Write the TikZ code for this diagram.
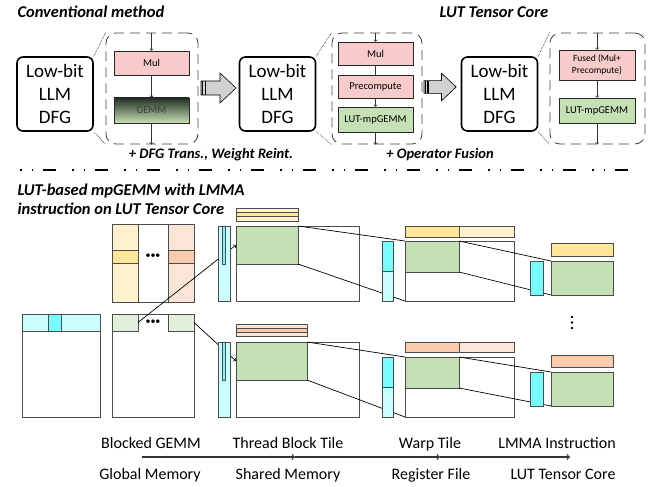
\documentclass[tikz,border=0pt]{standalone}
\usepackage{fontspec}
\setmainfont{Carlito}
\usepackage{tikz}
\usetikzlibrary{positioning}
\definecolor{cyanL}{HTML}{CCFFFF}
\definecolor{cyanD}{HTML}{77FFFF}
\definecolor{yelL}{HTML}{FFF2CC}
\definecolor{yelD}{HTML}{FFE699}
\definecolor{orgL}{HTML}{FBE5D6}
\definecolor{orgD}{HTML}{F8CBAD}
\definecolor{grnM}{HTML}{C5E0B4}
\definecolor{grnL}{HTML}{E2EFDA}
\definecolor{pinkM}{HTML}{F8CBCB}
\definecolor{gemmTop}{HTML}{253025}

\begin{document}
\begin{tikzpicture}[x=1pt,y=-1pt,
	dfg/.style={draw,line width=1.6pt,rounded corners=6pt,minimum width=76pt,minimum height=74pt,inner sep=0pt,align=center,font=\fontsize{19}{23}\selectfont},
	zoombox/.style={draw=black!75,line width=0.8pt,dash pattern=on 10pt off 6pt,rounded corners=10pt,minimum height=111pt,inner sep=0pt},
	op/.style={draw=black!85,line width=0.7pt,minimum width=75pt,inner sep=0pt,align=center,font=\fontsize{10.5}{12}\selectfont},
	title/.style={font=\fontsize{16.5}{20}\selectfont\bfseries\itshape},
	note/.style={font=\fontsize{14.5}{17}\selectfont\bfseries\itshape},
	lbl/.style={anchor=base,font=\fontsize{16}{19}\selectfont},
	blk/.style={draw=black!70,line width=0.8pt,anchor=north west,inner sep=0pt,outer sep=0pt},
	sz/.style 2 args={minimum width=#1pt,minimum height=#2pt},
	flow/.style={->,line width=0.6pt,black!80},
	link/.style={line width=0.7pt},
	hop/.style={->,draw=black!80,line width=1.2pt},
	dots/.style={font=\fontsize{10}{12}\selectfont,inner sep=0pt},
	fatarrow/.pic={
		\draw[fill=black!18,line width=0.6pt] (0,-7) -- (19,-7) -- (19,-15) -- (35,0) -- (19,15) -- (19,7) -- (0,7) -- cycle;
		\draw[line width=1.5pt] (1.5,-7) -- (1.5,7) (4.5,-7) -- (4.5,7);
	}]
	\useasboundingbox (0,0) rectangle (657,487);

	% top: DFG transformation
	\node[title,anchor=base west] (ttlA) at (14,18) {Conventional method};
	\node[title,anchor=base] (ttlB) at (494,18) {LUT Tensor Core};

	\node[dfg] (dfgA) at (55,94) {Low-bit\\LLM\\DFG};
	\node[dfg] (dfgB) at (277.5,94) {Low-bit\\LLM\\DFG};
	\node[dfg] (dfgC) at (499.5,94) {Low-bit\\LLM\\DFG};

	\node[zoombox,minimum width=92pt] (zmA) at (152,88.5) {};
	\node[zoombox,minimum width=90pt] (zmB) at (377,88.5) {};
	\node[zoombox,minimum width=95pt] (zmC) at (597.5,88.5) {};

	\draw[densely dotted,line width=0.6pt] (dfgA.north east) -- (zmA.north west) (dfgA.south east) -- (zmA.south west);
	\draw[densely dotted,line width=0.6pt] (dfgB.north east) -- (zmB.north west) (dfgB.south east) -- (zmB.south west);
	\draw[densely dotted,line width=0.6pt] (dfgC.north east) -- (zmC.north west) (dfgC.south east) -- (zmC.south west);

	\node[op,fill=pinkM,minimum height=24pt] (mulA) at (151.5,63) {Mul};
	\node[op,top color=gemmTop,bottom color=grnM,minimum height=25pt,text=black!75] (gemmA) at (151.5,110.5) {GEMM};
	\draw[flow] (mulA |- zmA.north) -- (mulA.north);
	\draw[flow] (mulA.south) -- (gemmA.north);
	\draw[flow] (gemmA.south) -- (gemmA |- zmA.south);

	\node[op,fill=pinkM,minimum height=23pt] (mulB) at (375.5,53.5) {Mul};
	\node[op,fill=pinkM,minimum height=23pt] (preB) at (375.5,86.5) {Precompute};
	\node[op,fill=grnM,minimum height=25pt] (lutB) at (375.5,119.5) {LUT-mpGEMM};
	\draw[flow] (mulB |- zmB.north) -- (mulB.north);
	\draw[line width=0.6pt,black!80] (mulB.south) -- (preB.north);
	\draw[flow] (preB.south) -- (lutB.north);
	\draw[flow] (lutB.south) -- (lutB |- zmB.south);

	\node[op,fill=pinkM,minimum width=76pt,minimum height=30pt,font=\fontsize{9.5}{11.5}\selectfont] (fusC) at (597,65) {Fused (Mul+\\Precompute)};
	\node[op,fill=grnM,minimum width=76pt,minimum height=25pt] (lutC) at (597,110.5) {LUT-mpGEMM};
	\draw[flow] (fusC |- zmC.north) -- (fusC.north);
	\draw[flow] (fusC.south) -- (lutC.north);
	\draw[flow] (lutC.south) -- (lutC |- zmC.south);

	\pic (arrA) at (201,88) {fatarrow};
	\pic[scale=0.92] (arrB) at (424,87) {fatarrow};

	\node[note,anchor=base] (noteA) at (211,159) {+ DFG Trans., Weight Reint.};
	\node[note,anchor=base] (noteB) at (440,159) {+ Operator Fusion};

	\coordinate (sepL) at (20,170);
	\coordinate (sepR) at (637,170);
	\draw[line width=2.5pt,dash pattern=on 1.5pt off 10pt on 1.5pt off 10pt on 13pt off 16pt] (sepL) -- (sepR);

	% bottom: tiling
	\node[title,anchor=base west] (ttlC) at (14,195) {LUT-based mpGEMM with LMMA};
	\node[title,anchor=base west] (ttlD) at (14,214) {instruction on LUT Tensor Core};

	\node[blk,fill=white,sz={78}{103}] (gA) at (22,314) {};
	\node[blk,fill=cyanL,sz={78}{17}] (gAs) at (22,314) {};
	\node[blk,fill=cyanD,sz={13}{17}] (gAd) at (48,314) {};

	\node[blk,sz={82}{78}] (gB) at (112,224) {};
	\node[blk,fill=yelL,sz={26}{78}] (gB1) at (112,224) {};
	\node[blk,fill=orgL,sz={26}{78}] (gB2) at (168,224) {};
	\node[blk,fill=yelD,sz={26}{13}] (gB1r) at (112,250) {};
	\node[blk,fill=orgD,sz={26}{13}] (gB2r) at (168,250) {};
	\node[dots] (gBdots) at (153,256.5) {•••};

	\node[blk,sz={82}{103}] (gC) at (112,314) {};
	\node[blk,fill=grnL,sz={26}{17}] (gC1) at (112,314) {};
	\node[blk,fill=grnL,sz={26}{17}] (gC2) at (168,314) {};
	\node[dots] (gCdots) at (153,322.5) {•••};

	% thread block tiles
	\node[blk,sz={123}{75}] (tbU) at (236,226) {};
	\node[blk,fill=grnM,sz={62}{38}] (tbgU) at (236,226) {};
	\node[blk,fill=yelL,sz={62}{13}] (tbbU) at (236,208) {};
	\node[blk,fill=yelD,sz={62}{4},line width=0.5pt] (tbbUm) at (236,212.5) {};

	\node[blk,sz={123}{75}] (tbL) at (236,342) {};
	\node[blk,fill=grnM,sz={71}{38}] (tbgL) at (236,342) {};
	\node[blk,fill=orgL,sz={71}{12}] (tbbL) at (236,324) {};
	\node[blk,fill=orgD,sz={71}{4},line width=0.5pt] (tbbLm) at (236,328) {};

	\draw[link,->] (gC1.east) -- (tbgU.west);
	\draw[link,->] (gC2.east) -- (tbgL.west);

	\node[blk,fill=cyanL,sz={12}{75}] (tbaU) at (218,226) {};
	\node[blk,fill=cyanD,sz={3}{38},line width=0.6pt] (tbaUm) at (222,226) {};
	\node[blk,fill=cyanL,sz={12}{75}] (tbaL) at (218,342) {};
	\node[blk,fill=cyanD,sz={3}{38},line width=0.6pt] (tbaLm) at (222,342) {};

	% warp tiles
	\node[blk,sz={109}{60}] (wU) at (405,241) {};
	\node[blk,fill=grnM,sz={54}{31}] (wgU) at (405,241) {};
	\node[blk,fill=yelD,sz={54}{11}] (wbU1) at (405,226) {};
	\node[blk,fill=yelL,sz={55}{11}] (wbU2) at (459,226) {};
	\draw[link] (tbgU.north east) -- (wU.north west);
	\draw[link] (tbgU.south east) -- (wU.south west);
	\node[blk,fill=cyanD,sz={11}{30}] (waU1) at (382,241) {};
	\node[blk,fill=cyanL,sz={11}{30}] (waU2) at (382,271) {};

	\node[blk,sz={109}{60}] (wL) at (405,357) {};
	\node[blk,fill=grnM,sz={54}{31}] (wgL) at (405,357) {};
	\node[blk,fill=orgD,sz={54}{10}] (wbL1) at (405,342) {};
	\node[blk,fill=orgL,sz={55}{10}] (wbL2) at (459,342) {};
	\draw[link] (tbgL.north east) -- (wL.north west);
	\draw[link] (tbgL.south east) -- (wL.south west);
	\node[blk,fill=cyanD,sz={11}{30}] (waL1) at (382,357) {};
	\node[blk,fill=cyanL,sz={11}{30}] (waL2) at (382,387) {};

	% LMMA instruction
	\node[blk,fill=grnM,sz={62}{34}] (lmU) at (551,261) {};
	\node[blk,fill=yelD,sz={62}{13}] (lmbU) at (551,243) {};
	\draw[link] (wgU.north east) -- (lmU.north west);
	\draw[link] (wgU.south east) -- (lmU.south west);
	\node[blk,fill=cyanD,sz={13}{34}] (lmaU) at (530,261) {};

	\node[blk,fill=grnM,sz={62}{34}] (lmL) at (551,372) {};
	\node[blk,fill=orgD,sz={62}{12}] (lmbL) at (551,355) {};
	\draw[link] (wgL.north east) -- (lmL.north west);
	\draw[link] (wgL.south east) -- (lmL.south west);
	\node[blk,fill=cyanD,sz={13}{34}] (lmaL) at (530,372) {};

	\fill (572,317) circle (1.4pt) (572,322.5) circle (1.4pt) (572,328) circle (1.4pt);

	% memory hierarchy
	\node[lbl] (lvA) at (151,448) {Blocked GEMM};
	\node[lbl] (lvB) at (288,448) {Thread Block Tile};
	\node[lbl] (lvC) at (430,448) {Warp Tile};
	\node[lbl] (lvD) at (557,448) {LMMA Instruction};
	\node[lbl] (mmA) at (150,479) {Global Memory};
	\node[lbl] (mmB) at (288,479) {Shared Memory};
	\node[lbl] (mmC) at (431,479) {Register File};
	\node[lbl] (mmD) at (563,479) {LUT Tensor Core};

	\coordinate (hop0) at (142,457);
	\coordinate (hop1) at (295,457);
	\coordinate (hop2) at (440,457);
	\coordinate (hop3) at (570,457);
	\draw[hop] (hop0) -- (hop1);
	\draw[hop] (hop1) -- (hop2);
	\draw[hop] (hop2) -- (hop3);
\end{tikzpicture}
\end{document}
